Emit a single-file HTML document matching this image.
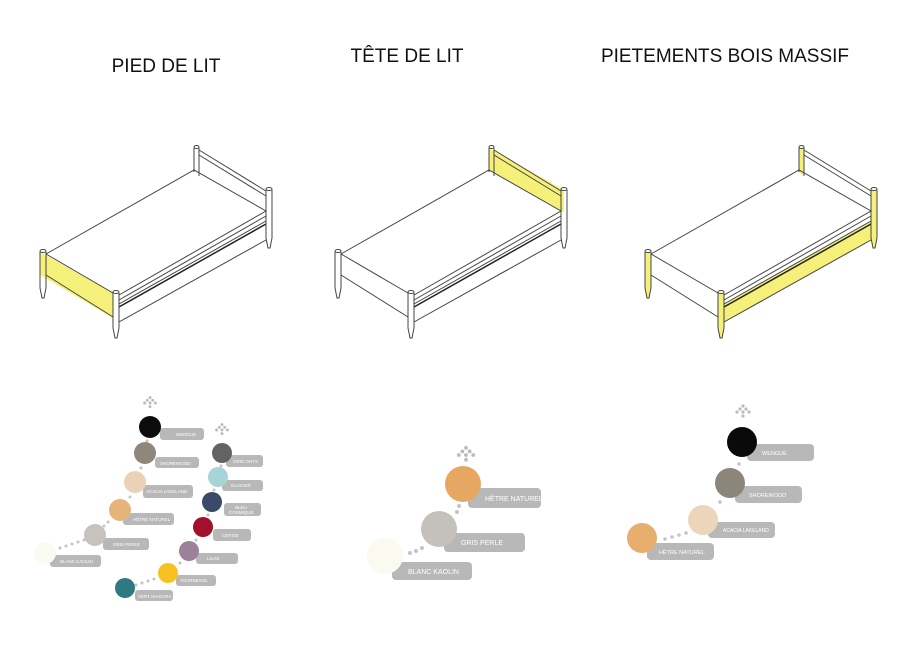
<!DOCTYPE html>
<html><head><meta charset="utf-8"><style>
html,body{margin:0;padding:0;background:#fff;}
svg{display:block;}
.t{font-family:"Liberation Sans",sans-serif;fill:#111;}
.l{font-family:"Liberation Sans",sans-serif;fill:#fff;}
</style></head><body>
<svg width="918" height="650" viewBox="0 0 918 650" xmlns="http://www.w3.org/2000/svg">
<defs>
<g id="bed" fill="none" stroke="#444" stroke-width="1">
  <path d="M46,254 L194,170 L266,211 L119,295" />
  <path d="M119,300 L266,216" />
  <path d="M119,304 L266,221" />
  <path d="M119,307 L266,224" stroke="#222" stroke-width="1.5"/>
  <path d="M119,322 L266,240" />
  <path d="M199,150 L266,191 M199,155 L266,196" />
  <path d="M46,254 L113,293 M46,275 L113,317" />
  <path d="M40,252 L40,288 L42,298 L44,298 L46,288 L46,252" />
  <ellipse cx="43" cy="251" rx="3" ry="1.5"/>
  <path d="M113,293 L113,328 L115,338 L117,338 L119,328 L119,293" />
  <ellipse cx="116" cy="292" rx="3" ry="1.5"/>
  <path d="M266,190 L266,238 L268,248 L270,248 L272,238 L272,190" />
  <ellipse cx="269" cy="189" rx="3" ry="1.5"/>
  <path d="M194,148 L194,172 M199,148 L199,176" />
  <ellipse cx="196.5" cy="147" rx="2.5" ry="1.5"/>
</g>
<g id="arr" fill="#bbb">
  <circle cx="0" cy="-6" r="1.6"/><circle cx="-3" cy="-3" r="1.6"/><circle cx="3" cy="-3" r="1.6"/>
  <circle cx="-6" cy="0" r="1.6"/><circle cx="6" cy="0" r="1.6"/><circle cx="0" cy="0" r="1.6"/><circle cx="0" cy="4" r="1.6"/>
</g>
</defs>

<text class="t" x="166" y="72" font-size="19" text-anchor="middle">PIED DE LIT</text>
<text class="t" x="407" y="62" font-size="19" text-anchor="middle">TÊTE DE LIT</text>
<text class="t" x="725" y="62" font-size="19" text-anchor="middle">PIETEMENTS BOIS MASSIF</text>

<polygon points="40,252 113,293 113,318 40,275" fill="#f5f07a"/>
<use href="#bed"/>
<g transform="translate(295,0)">
<polygon points="194,148 269,190 269,212 194,170" fill="#f5f07a"/>
<use href="#bed"/>
</g>
<g transform="translate(605,0)" fill="#f5f07a">
<polygon points="119,304 266,221 266,240 119,322"/>
<polygon points="40,252 46,252 46,288 44,298 42,298 40,288"/>
<polygon points="113,293 119,293 119,328 117,338 115,338 113,328"/>
<polygon points="266,190 272,190 272,238 270,248 268,248 266,238"/>
<polygon points="194,148 199,148 199,176 194,172"/>
<use href="#bed"/>
</g>

<g fill="#b8b8b8">
<rect x="160" y="428" width="44" height="12" rx="3"/>
<rect x="155" y="457" width="44" height="11" rx="3"/>
<rect x="143" y="485" width="50" height="13" rx="3"/>
<rect x="123" y="513" width="51" height="12" rx="3"/>
<rect x="103" y="538" width="46" height="12" rx="3"/>
<rect x="50" y="555" width="51" height="12" rx="3"/>
<rect x="226" y="455" width="37" height="12" rx="3"/>
<rect x="222" y="480" width="41" height="11" rx="3"/>
<rect x="224" y="503" width="37" height="13" rx="3"/>
<rect x="213" y="529" width="38" height="12" rx="3"/>
<rect x="196" y="553" width="42" height="11" rx="3"/>
<rect x="176" y="575" width="40" height="11" rx="3"/>
<rect x="135" y="590" width="38" height="11" rx="3"/>
</g>
<g font-size="4.5" class="l">
<text class="l" x="176" y="436">WENGUE</text>
<text class="l" x="160" y="465">SHOREWOOD</text>
<text class="l" x="146" y="493">ACACIA LAKELAND</text>
<text class="l" x="133" y="521">HÊTRE NATUREL</text>
<text class="l" x="113" y="546">GRIS PERLE</text>
<text class="l" x="60" y="563">BLANC KAOLIN</text>
<text class="l" x="233" y="463">GRIS ONYX</text>
<text class="l" x="231" y="487">GLACIER</text>
<text class="l" x="235" y="509">BLEU</text>
<text class="l" x="229" y="514">COSMIQUE</text>
<text class="l" x="222" y="537">CERISE</text>
<text class="l" x="207" y="560">LILAS</text>
<text class="l" x="180" y="582">TOURNESOL</text>
<text class="l" x="138" y="598">VERT NIAGARA</text>
</g>
<g fill="#c4c4c4">
<circle cx="147" cy="441" r="1.5"/><circle cx="141" cy="468" r="1.5"/><circle cx="130" cy="497" r="1.5"/>
<circle cx="108" cy="522" r="1.5"/><circle cx="104" cy="526" r="1.5"/>
<circle cx="60" cy="548" r="1.5"/><circle cx="66" cy="546" r="1.5"/><circle cx="72" cy="544" r="1.5"/><circle cx="78" cy="542" r="1.5"/><circle cx="84" cy="540" r="1.5"/>
<circle cx="221" cy="466" r="1.5"/><circle cx="214" cy="490" r="1.5"/><circle cx="208" cy="515" r="1.5"/>
<circle cx="196" cy="540" r="1.5"/><circle cx="180" cy="563" r="1.5"/>
<circle cx="136" cy="585" r="1.5"/><circle cx="142" cy="583" r="1.5"/><circle cx="148" cy="581" r="1.5"/><circle cx="154" cy="579" r="1.5"/>
</g>
<use href="#arr" transform="translate(150,403) scale(0.9)"/>
<use href="#arr" transform="translate(222,430) scale(0.9)"/>
<circle cx="150" cy="427" r="11" fill="#0c0c0c"/>
<circle cx="145" cy="453" r="11" fill="#8f877c"/>
<circle cx="135" cy="482" r="11" fill="#ead2b6"/>
<circle cx="120" cy="510" r="11" fill="#e6b47a"/>
<circle cx="95" cy="535" r="11" fill="#c6c2bd"/>
<circle cx="45" cy="553" r="11" fill="#fbfbf1"/>
<circle cx="222" cy="453" r="10" fill="#636363"/>
<circle cx="218" cy="477" r="10" fill="#a7d4d6"/>
<circle cx="212" cy="502" r="10" fill="#3a4a68"/>
<circle cx="203" cy="527" r="10" fill="#a3102c"/>
<circle cx="189" cy="551" r="10" fill="#9b8299"/>
<circle cx="168" cy="573" r="10" fill="#f7c221"/>
<circle cx="125" cy="588" r="10" fill="#2d7a83"/>

<g fill="#b8b8b8">
<rect x="468" y="488" width="73" height="20" rx="4"/>
<rect x="444" y="533" width="81" height="19" rx="4"/>
<rect x="392" y="562" width="80" height="18" rx="4"/>
</g>
<text class="l" x="485" y="501" font-size="7">HÊTRE NATUREL</text>
<text class="l" x="461" y="545" font-size="7">GRIS PERLE</text>
<text class="l" x="408" y="574" font-size="7">BLANC KAOLIN</text>
<g fill="#c4c4c4">
<circle cx="459" cy="506" r="2"/><circle cx="457" cy="512" r="2"/>
<circle cx="410" cy="553" r="2"/><circle cx="416" cy="551" r="2"/><circle cx="422" cy="548" r="2"/>
</g>
<use href="#arr" transform="translate(466,455) scale(1.2)"/>
<circle cx="463" cy="484" r="18" fill="#e6a762"/>
<circle cx="439" cy="529" r="18" fill="#c4c0bc"/>
<circle cx="385" cy="556" r="18" fill="#fafaf0"/>

<g fill="#b8b8b8">
<rect x="747" y="444" width="67" height="17" rx="4"/>
<rect x="735" y="486" width="67" height="17" rx="4"/>
<rect x="708" y="522" width="67" height="16" rx="4"/>
<rect x="647" y="543" width="67" height="17" rx="4"/>
</g>
<text class="l" x="762" y="455" font-size="5.5">WENGUE</text>
<text class="l" x="749" y="497" font-size="5.5">SHOREWOOD</text>
<text class="l" x="723" y="532" font-size="5">ACACIA LAKELAND</text>
<text class="l" x="659" y="554" font-size="5.5">HÊTRE NATUREL</text>
<g fill="#c4c4c4">
<circle cx="739" cy="464" r="1.8"/><circle cx="720" cy="502" r="1.8"/>
<circle cx="665" cy="539" r="1.8"/><circle cx="672" cy="537" r="1.8"/><circle cx="679" cy="535" r="1.8"/><circle cx="686" cy="533" r="1.8"/>
</g>
<use href="#arr" transform="translate(743,412) scale(1)"/>
<circle cx="742" cy="442" r="15" fill="#0a0a0a"/>
<circle cx="730" cy="483" r="15" fill="#8c857a"/>
<circle cx="703" cy="520" r="15" fill="#ecd5bb"/>
<circle cx="642" cy="538" r="15" fill="#e8ae6e"/>
</svg>
</body></html>
